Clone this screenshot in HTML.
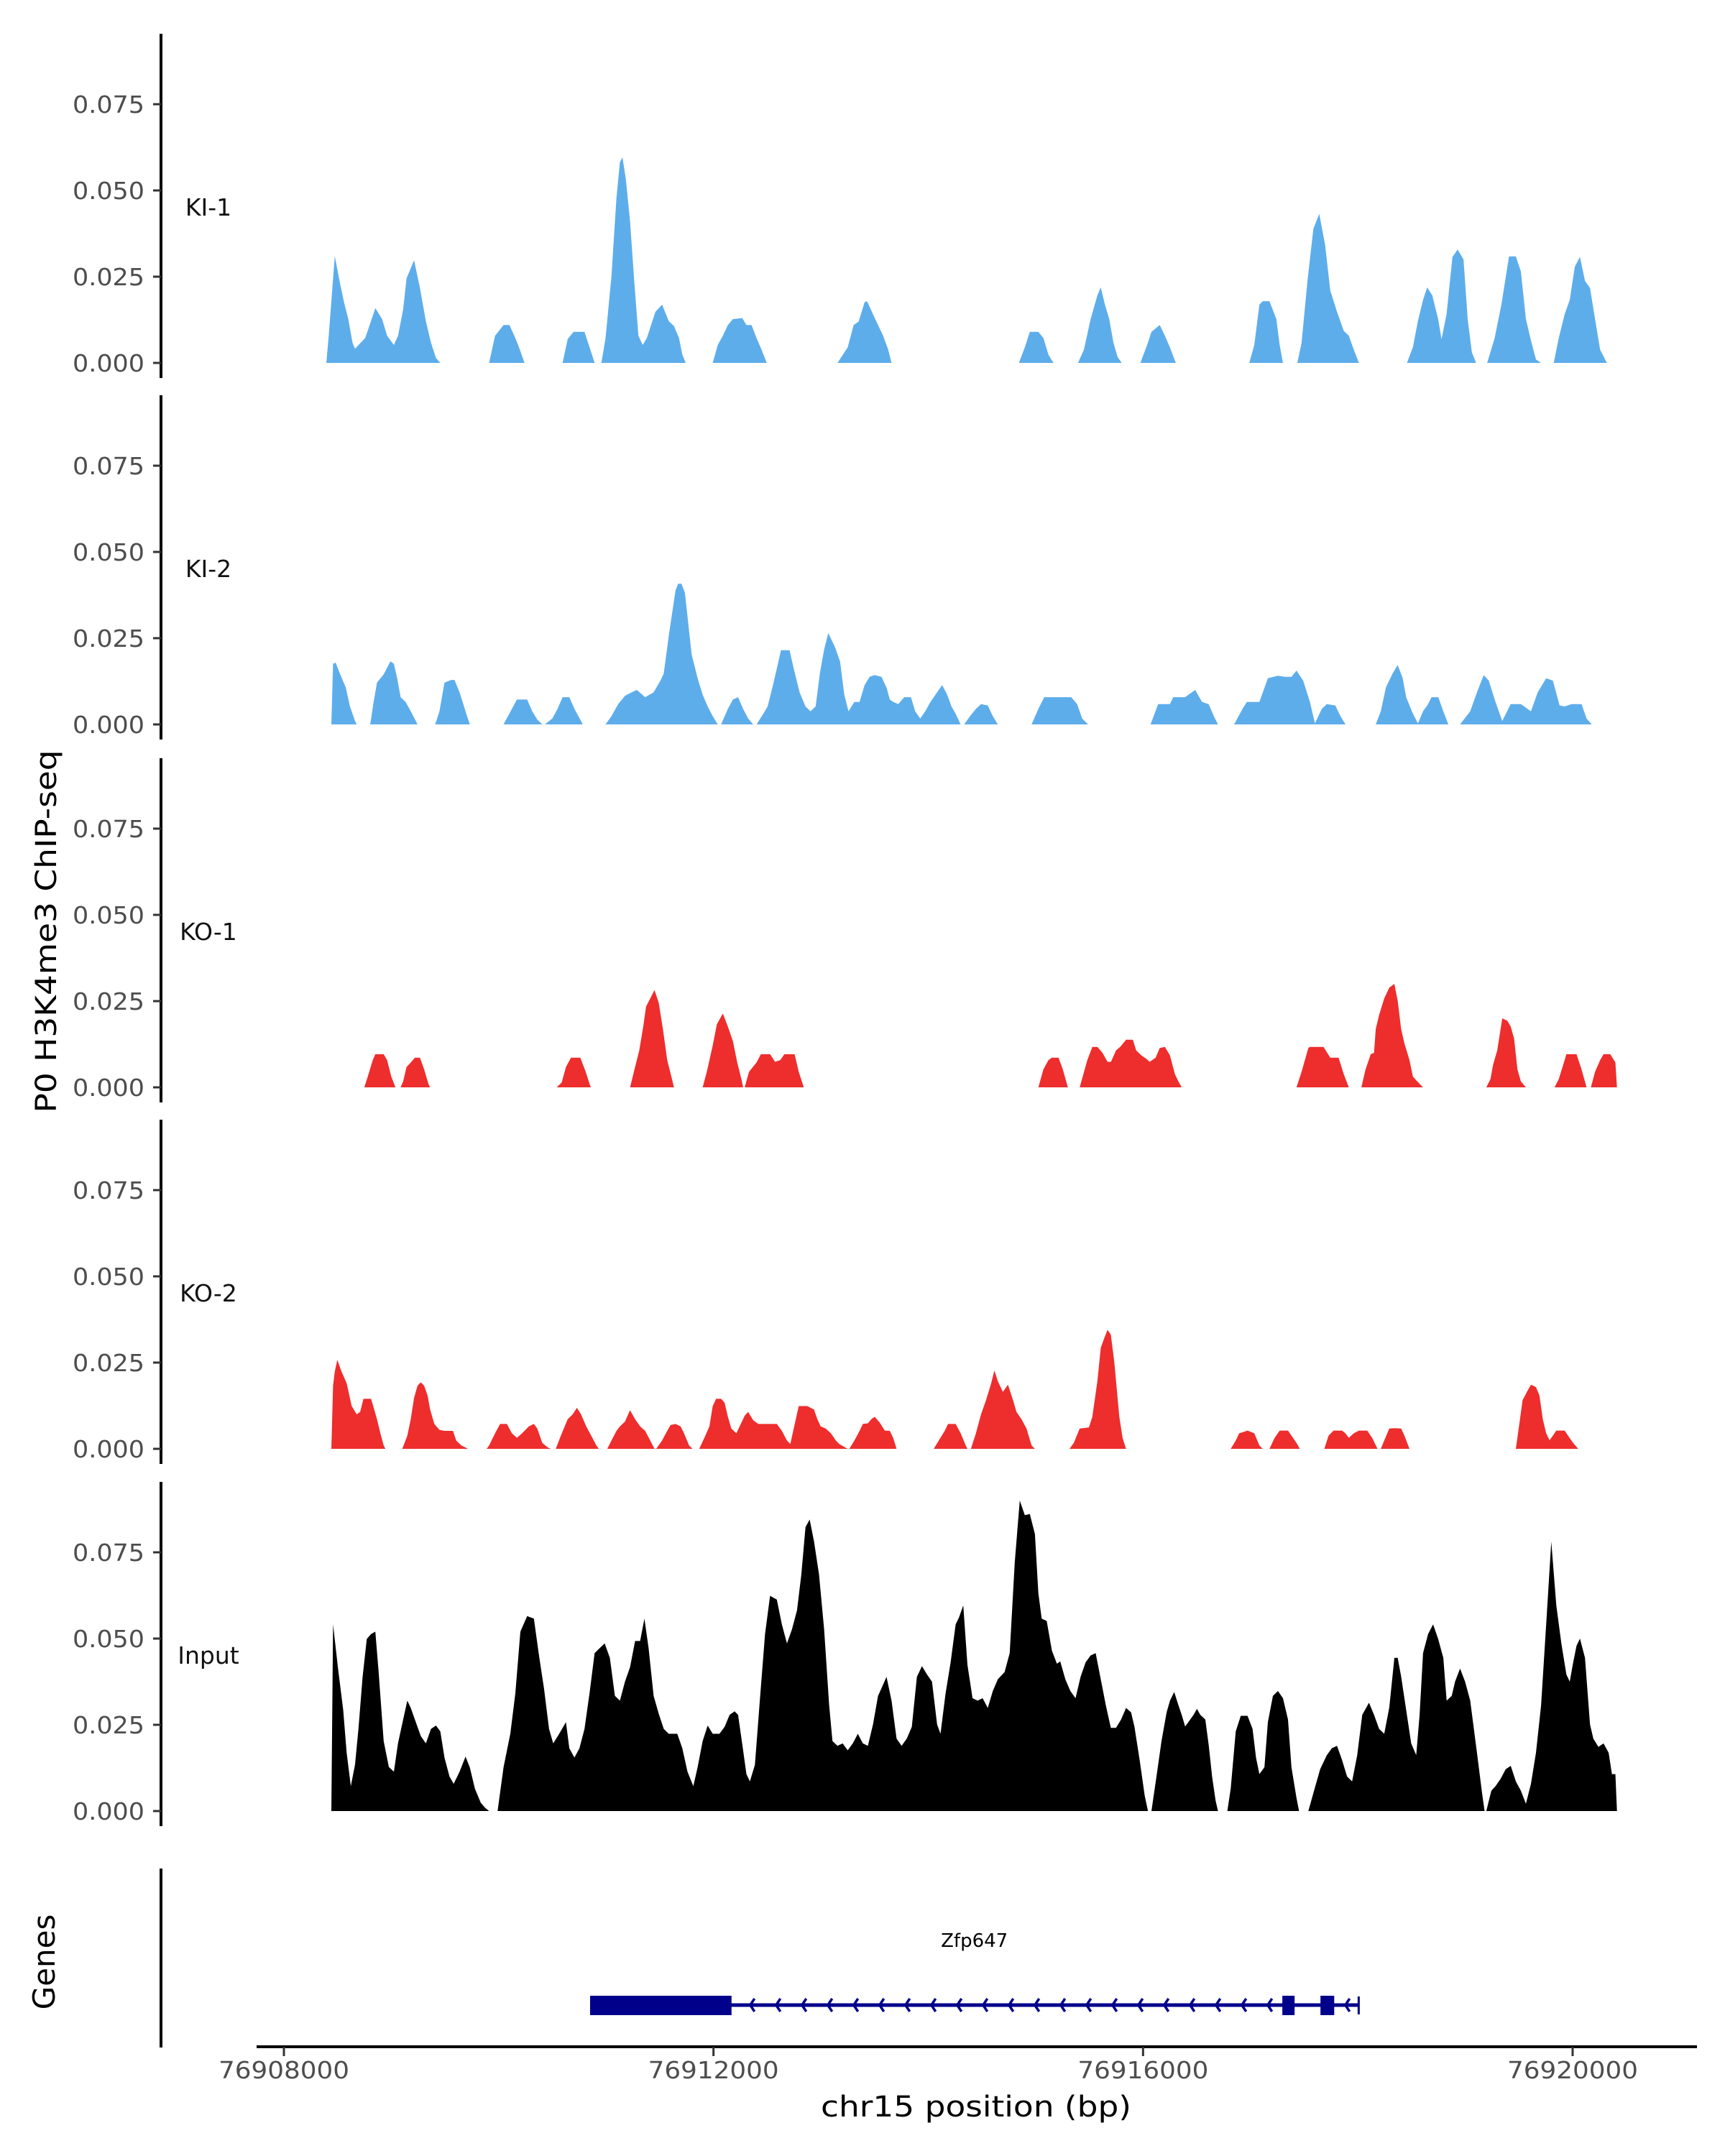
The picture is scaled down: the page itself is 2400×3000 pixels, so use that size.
<!DOCTYPE html>
<html><head><meta charset="utf-8"><style>
html,body{margin:0;padding:0;background:#fff;}
svg{display:block;}
text{font-family:"DejaVu Sans","Liberation Sans",sans-serif;}
</style></head><body>
<svg id="chart" width="2400" height="3000" viewBox="0 0 2400 3000" xmlns="http://www.w3.org/2000/svg">
<rect x="0" y="0" width="2400" height="3000" fill="#fff"/>
<text x="78" y="1296" transform="rotate(-90 78 1296)" text-anchor="middle" font-size="40" fill="#000" textLength="505" lengthAdjust="spacingAndGlyphs">P0 H3K4me3 ChIP-seq</text>
<text x="76" y="2730" transform="rotate(-90 76 2730)" text-anchor="middle" font-size="42" fill="#000">Genes</text>
<text x="1358" y="2945" text-anchor="middle" font-size="40" fill="#000" textLength="432" lengthAdjust="spacingAndGlyphs">chr15 position (bp)</text>
<g id="tracks"></g>
<g id="genes"></g>
<g id="xaxis"></g>
</svg>
<script>
const REGION_START = 76908000;
const xTicks = [76908000, 76912000, 76916000, 76920000];
const yTicks = [0, 0.025, 0.05, 0.075];
const trackNames = ["KI-1", "KI-2", "KO-1", "KO-2", "Input"];
const trackColors = ["#5eadeb", "#5eadeb", "#ee2d2d", "#ee2d2d", "#000000"];

const ki1Pos = [395,419,474,513,560,600,639,662,757,788,851,914,961,1024,1063,1110,1142,1212,1267,1322,1369,1416,1456,
1911,1966,2045,2100,2155,2194,2241,
2595,2642,2697,2799,2854,2893,
2956,2995,3050,3097,3129,3152,3184,3223,3262,3301,3341,3380,3419,3459,3521,3584,3632,3679,3710,3742,
3993,4040,4087,4134,4181,4268,4307,4354,4401,4448,4496,4543,
5155,5250,5305,5352,5407,5430,5485,5532,5580,5627,5658,
6844,6899,6946,7025,7072,7119,7166,
7394,7449,7512,7575,7606,7645,7685,7724,7763,7802,
7975,8038,8078,8156,8203,8250,8305,
8989,9036,9083,9114,9177,9241,9272,9303,
9437,9476,9531,9586,9641,9696,9743,9806,9869,9916,9963,10010,
10457,10512,10559,10607,10646,10693,10748,10779,10826,10881,10929,10984,11023,11062,11101,
11204,11274,11337,11408,11471,11518,11565,11612,11659,11706,
11824,11871,11926,11973,12020,12068,12115,12162,12209,12256,12319];
const ki1Val = [0,.0085,.031,.0245,.0175,.0127,.0058,.0041,.0072,.01,.0159,.0127,.0079,.0052,.0079,.0155,.0245,.0298,.0217,.0121,.0059,.0014,0,
0,.0079,.011,.011,.0072,.0041,0,
0,.0069,.009,.009,.0038,0,
0,.0072,.0251,.0479,.0582,.0596,.0534,.041,.0238,.0079,.0052,.0072,.011,.0148,.0169,.0121,.0107,.0072,.0024,0,
0,.0052,.0079,.011,.0127,.013,.011,.011,.0072,.0038,0,0,
0,.0045,.011,.012,.0176,.0179,.0141,.011,.0079,.0038,0,
0,.0045,.009,.009,.0072,.0024,0,
0,.0038,.0127,.0196,.0219,.0169,.0127,.0059,.0017,0,
0,.0052,.009,.011,.0079,.0045,0,
0,.0052,.0169,.0179,.0179,.0127,.0052,0,
0,.0059,.0238,.0389,.0432,.0341,.021,.0148,.0093,.0079,.0038,0,
0,.0045,.0121,.0183,.0219,.0196,.0127,.0069,.0141,.0307,.0329,.03,.0127,.0031,0,
0,.0072,.0169,.0309,.0309,.0265,.0127,.0065,.001,0,
0,.0072,.0141,.0183,.0279,.0307,.0238,.0217,.0127,.0038,0];

const ki2Pos = [442,458,482,521,576,615,662,678,
804,835,867,929,992,1024,1055,1087,1134,1181,1228,1244,
1409,1448,1495,1558,1589,1636,1691,1731,
2045,2123,2170,2265,2312,2359,2406,
2430,2500,2548,2595,2658,2705,2767,2783,
2995,3050,3113,3176,3238,3286,3364,3443,3506,3537,3584,3647,3671,3702,3734,3797,3852,3899,3946,3993,4040,
4071,4134,4181,4229,4276,4323,4370,
4401,4464,4504,4543,4590,4629,4708,4747,4802,4857,4904,4951,4991,5030,5069,5132,5179,5218,5257,5312,5360,5407,5454,5501,5564,5611,5642,5674,5721,5776,5839,5878,5925,5972,6020,6082,6129,6177,6216,6255,6302,
6334,6389,6444,6491,6554,6601,6648,
6962,7025,7080,7331,7386,7433,7488,
8070,8140,8250,8281,8391,8486,8549,8611,8659,8698,
8848,8926,8966,9083,9162,9256,9319,9382,9429,9491,9554,9601,9664,9711,9790,9838,9885,
10167,10214,10261,10324,10371,10418,10450,10513,10560,10607,10654,10686,10749,10796,10843,
10952,11046,11109,11172,11219,11282,11345,11423,11518,11612,11675,11754,11816,11879,11926,11989,12083,12130,12178];
const ki2Val = [0,.0176,.0179,.0148,.0107,.0052,.001,0,
0,.0065,.0121,.0145,.0183,.0176,.0134,.0079,.0065,.0038,.001,0,
0,.0038,.0121,.0129,.0129,.0093,.0038,0,
0,.0045,.0072,.0072,.0038,.0014,0,
0,.0017,.0045,.0079,.0079,.0045,.001,0,
0,.0024,.0059,.0083,.0093,.01,.0079,.0093,.0127,.0148,.0258,.0389,.0408,.0408,.0382,.0203,.0134,.0086,.0052,.0024,0,
0,.0045,.0072,.0079,.0045,.0017,0,
0,.0031,.0052,.01,.0162,.0215,.0215,.0162,.0093,.0052,.0038,.0052,.0148,.0217,.0265,.0224,.0182,.0086,.0038,.0065,.0065,.0114,.0138,.0143,.0138,.0107,.0072,.0065,.0059,.0079,.0079,.0038,.0017,.0038,.0065,.0093,.0114,.0086,.0052,.0031,0,
0,.0024,.0045,.0059,.0055,.0024,0,
0,.0045,.0079,.0079,.0059,.0017,0,
0,.0059,.0059,.0079,.0079,.01,.0065,.0059,.0024,0,
0,.0045,.0065,.0065,.0134,.0141,.0138,.0138,.0156,.0127,.0065,.0003,.0045,.0059,.0055,.0024,0,
0,.0038,.0107,.0148,.0172,.0134,.0079,.0031,.0003,.0038,.0059,.0079,.0079,.0038,0,
0,.0038,.0093,.0143,.0127,.0065,.001,.0059,.0059,.0038,.0093,.0134,.0127,.0055,.0052,.0059,.0059,.0017,0];

const ko1Pos = [749,788,827,851,929,961,1000,1039,
1087,1110,1142,1181,1220,1267,1306,1346,1361,
2540,2587,2626,2673,2760,2807,2854,2862,
3223,3270,3309,3349,3372,3411,3451,3490,3529,3569,3608,3632,
3899,3938,3993,4032,4087,4134,4181,4221,4260,4276,
4291,4331,4401,4441,4527,4574,4621,4661,4755,4794,4841,
7025,7072,7119,7150,7213,7253,7300,
7410,7481,7528,7575,7622,7669,7701,7748,7787,7842,7905,7936,7983,8030,8062,8117,8156,8203,8250,8297,8329,8360,
9429,9476,9539,9554,9680,9743,9821,9869,9916,
10033,10072,10120,10151,10167,10198,10246,10293,10340,10371,10403,10434,10481,10513,10576,10607,
11196,11235,11259,11298,11345,11392,11424,11455,11486,11518,11565,
11832,11871,11926,11942,12036,12083,12130,
12170,12209,12256,12288,12351,12398,12413];
const ko1Val = [0,.0038,.0079,.0096,.0096,.0079,.0031,0,
0,.0017,.0059,.0072,.0086,.0086,.0052,.001,0,
0,.0014,.0059,.0086,.0086,.0048,.0003,0,
0,.0059,.0107,.0182,.0234,.0258,.0282,.0245,.0169,.0079,.0031,0,
0,.0045,.0121,.0183,.0214,.0176,.0134,.0072,.0024,0,
0,.0045,.0072,.0096,.0096,.0074,.0079,.0096,.0096,.0045,0,
0,.0052,.0079,.0086,.0086,.0052,0,
0,.0079,.0117,.0117,.01,.0074,.0074,.0107,.0117,.0138,.0138,.0107,.0093,.0083,.0074,.0086,.0114,.0117,.0093,.0038,.0017,0,
0,.0045,.0114,.0117,.0117,.0086,.0086,.0038,0,
0,.0052,.0096,.01,.0169,.021,.0258,.0289,.03,.0251,.0169,.0127,.0079,.0031,.001,0,
0,.0024,.0065,.0107,.02,.0193,.0176,.0141,.0052,.0017,0,
0,.0024,.0079,.0096,.0096,.0052,0,
0,.0045,.0079,.0096,.0096,.0072,0];

const ko2Pos = [442,458,474,497,537,584,631,678,710,741,812,867,898,929,945,
1102,1149,1181,1212,1244,1275,1306,1338,1361,1401,1448,1495,1574,1605,1652,1715,
1888,1911,1966,2013,2076,2123,2170,2218,2281,2328,2359,2406,2453,2485,
2532,2579,2642,2689,2728,2767,2815,2862,2909,2932,
3011,3050,3097,3129,3176,3223,3270,3317,3364,3411,3451,
3466,3521,3569,3600,3647,3694,3726,3773,3804,
3867,3914,3962,3993,4024,4071,4103,4134,4166,4213,4244,4291,4323,4370,4417,4590,4637,4684,4716,4747,4794,4873,4936,4967,4998,5045,5093,5140,5171,5234,5250,
5265,5312,5360,5391,5438,5470,5501,5548,5595,5642,5674,5705,
6051,6098,6153,6184,6255,6302,6349,6365,
6397,6444,6491,6538,6585,6616,6648,6695,6742,6789,6821,6868,6915,6962,6993,
7315,7355,7410,7496,7528,7575,7606,7638,7669,7700,7732,7779,7810,7842,
8816,8863,8895,8926,8973,9036,9083,9114,
9177,9224,9272,9350,9398,9429,9460,
9688,9727,9774,9853,9884,9916,9963,10010,10088,10135,10183,
10214,10246,10293,10340,10403,10434,10481,
11471,11495,11534,11581,11612,11659,11691,11722,11754,11785,11816,11848,11926,11973,12005,12052];
const ko2Val = [0,.0183,.0224,.0258,.0224,.019,.0124,.01,.0107,.0145,.0145,.0086,.0045,.001,0,
0,.0038,.0086,.0148,.0183,.0193,.0183,.0155,.0114,.0072,.0055,.0052,.0052,.0024,.001,0,
0,.001,.0045,.0072,.0072,.0045,.0032,.0045,.0065,.0072,.0059,.0017,.0005,0,
0,.0038,.0086,.01,.0119,.01,.0065,.0038,.001,0,
0,.0024,.0052,.0065,.0079,.0112,.0086,.0065,.0052,.0024,0,
0,.0024,.0052,.0069,.0072,.0065,.0045,.001,0,
0,.0031,.0065,.0124,.0145,.0145,.0134,.0093,.0059,.0045,.0065,.0096,.0107,.0083,.0072,.0072,.0052,.0024,.0014,.0059,.0124,.0124,.0114,.0086,.0065,.0059,.0045,.0024,.0014,.0003,0,
0,.0024,.0052,.0072,.0074,.0086,.0093,.0076,.0053,.0052,.0031,0,
0,.0024,.0052,.0072,.0072,.0045,.001,0,
0,.0045,.01,.0141,.0189,.0227,.0196,.0165,.0186,.0141,.0107,.0086,.0059,.001,0,
0,.0017,.0059,.0062,.0093,.0196,.0293,.032,.0345,.0331,.0252,.0093,.0031,0,
0,.0024,.0045,.0048,.0053,.0045,.001,0,
0,.0031,.0053,.0053,.0031,.0017,0,
0,.0038,.0053,.0053,.0045,.0032,.0045,.0053,.0053,.0031,0,
0,.0024,.0059,.006,.0059,.0038,0,
0,.0052,.0141,.0169,.0186,.0179,.0155,.0086,.0045,.0025,.0038,.0053,.0053,.0031,.0017,0];

const inputPos = [442,458,505,552,584,623,662,694,733,772,812,851,882,929,977,1024,1063,1110,1149,1181,1228,1275,1322,1369,1416,1456,1495,1542,1581,1636,1691,1731,1778,1833,1872,1911,
1990,2045,2108,2155,2202,2265,2328,2375,2422,2469,2508,2563,2626,2658,2705,2752,2799,2846,2893,2940,2987,3035,3082,3129,3176,3223,3270,3317,3357,3396,3443,3490,3537,3584,3663,3710,3758,3812,3852,3899,3946,3993,4056,4103,4150,4197,4229,4276,4307,4339,4386,4433,4480,4527,4590,4637,4684,4731,4778,4818,4857,4896,4936,4983,5030,5077,5108,5155,5203,5250,5297,5344,5391,5438,5485,5532,5572,5611,5658,5705,5752,5800,5847,5894,5941,5988,6035,6082,6114,6161,6208,6255,6286,6326,6365,6412,6459,6506,6554,6601,6648,6711,6758,6805,6852,6899,6946,6993,7025,7056,7103,7151,7198,7229,7276,7323,7371,7418,7465,7512,7559,7606,7653,7700,7748,7795,7842,7889,7920,7968,8015,8046,
8078,8125,8172,8219,8251,8290,8329,8360,8392,8439,8470,8502,8533,8580,8612,8643,8675,8698,
8785,8816,8863,8910,8973,9020,9052,9083,9130,9162,9209,9256,9303,9350,9382,9429,9453,
9539,9586,9649,9711,9758,9806,9853,9900,9947,9994,10041,10104,10151,10198,10246,10293,10340,10371,10403,10450,10497,10544,10575,10607,10654,10701,10748,10796,10827,10874,10905,10952,10999,11046,11109,11157,11180,
11196,11243,11282,11329,11376,11424,11471,11518,11565,11612,11659,11706,11754,11801,11848,11895,11942,11973,12005,12036,12068,12115,12162,12193,12240,12288,12335,12366,12398,12413];
const inputVal = [0,.0541,.041,.0293,.0169,.0072,.0134,.0238,.0389,.0499,.0513,.052,.0403,.0203,.0128,.0114,.0197,.0265,.032,.0299,.0258,.0217,.0196,.0238,.0248,.0231,.0155,.01,.0079,.0114,.0158,.0127,.0065,.0024,.001,0,
0,.0127,.0224,.0341,.052,.0565,.0558,.0451,.0355,.0238,.0196,.0224,.0258,.0182,.0155,.0182,.0238,.0341,.0458,.0472,.0486,.0444,.0334,.032,.0375,.0417,.0493,.0493,.0558,.0472,.0334,.0282,.0238,.0224,.0224,.0182,.0114,.0072,.0127,.0203,.0248,.0224,.0224,.0244,.0279,.0289,.0279,.0176,.0107,.0086,.0134,.0327,.0513,.0624,.0613,.0541,.0486,.0527,.0582,.0686,.0823,.0845,.0782,.0686,.0527,.0307,.0203,.0189,.0196,.0176,.0196,.0224,.0196,.0189,.0251,.0334,.0361,.0389,.032,.021,.0189,.021,.0244,.0389,.042,.0396,.0375,.0251,.0224,.0341,.0431,.0541,.0561,.0596,.0424,.0327,.032,.0327,.0299,.0348,.0382,.0403,.0458,.072,.09,.0858,.0861,.0803,.0631,.0558,.0551,.0465,.0427,.0434,.0382,.0348,.0327,.0389,.0431,.0451,.0458,.0382,.0307,.0241,.0241,.0265,.0299,.0286,.0244,.0148,.0045,0,
0,.01,.0203,.0286,.032,.0345,.0307,.0279,.0245,.0265,.0279,.0296,.0279,.0265,.0189,.01,.0031,0,
0,.0065,.0231,.0276,.0276,.0238,.0155,.0107,.0127,.0258,.0334,.0348,.0327,.0265,.0127,.0038,0,
0,.0052,.0121,.0162,.0182,.0189,.0148,.01,.0086,.0162,.0279,.0314,.0279,.0238,.0224,.03,.0444,.0444,.039,.0293,.0196,.0162,.0279,.0458,.0513,.0541,.0499,.0444,.032,.0334,.0375,.0413,.0375,.032,.0169,.0052,0,
0,.0059,.0072,.0093,.0121,.0131,.0086,.0059,.0021,.0079,.0169,.0306,.0541,.0781,.0596,.0486,.0396,.0375,.043,.0479,.05,.0444,.0251,.021,.0186,.0196,.0169,.0107,.0107,0];

const trackPos = [ki1Pos, ki2Pos, ko1Pos, ko2Pos, inputPos];
const trackVal = [ki1Val, ki2Val, ko1Val, ko2Val, inputVal];

const geneName = "Zfp647";
const geneStart = 76910851;
const geneEnd = 76918008;
const exonStarts = [76910851, 76917297, 76917652];
const exonEnds = [76912168, 76917411, 76917780];

const NS = "http://www.w3.org/2000/svg";
const X0 = 395, XPX = (2188 - 395) / 12000;
function xScale(bp) { return X0 + (bp - REGION_START) * XPX; }
const zeros = [505, 1008, 1513, 2016, 2520];
const YPX = 120 / 0.025;
function yScale(k, v) { return zeros[k] - v * YPX; }
function mk(tag, attrs, parent) {
  const e = document.createElementNS(NS, tag);
  for (const k in attrs) e.setAttribute(k, attrs[k]);
  parent.appendChild(e);
  return e;
}
const tracks = document.getElementById('tracks');
for (let k = 0; k < 5; k++) {
  const g = mk('g', {}, tracks);
  
  
  const pos = trackPos[k], val = trackVal[k];
  let d = 'M' + xScale(REGION_START + pos[0]).toFixed(1) + ',' + zeros[k];
  for (let i = 0; i < pos.length; i++) d += 'L' + xScale(REGION_START + pos[i]).toFixed(1) + ',' + yScale(k, val[i]).toFixed(1);
  d += 'L' + xScale(REGION_START + pos[pos.length - 1]).toFixed(1) + ',' + zeros[k] + 'Z';
  const area = mk('path', {d: d, fill: trackColors[k]}, g);
  
  
  const ax = mk('line', {x1: 224, x2: 224, y1: zeros[k] - 458, y2: zeros[k] + 21, stroke: '#000', 'stroke-width': 4}, g);
  
  
  for (let t = 0; t < yTicks.length; t++) {
    const y = yScale(k, yTicks[t]);
    const tk = mk('line', {x1: 213, x2: 224, y1: y, y2: y, stroke: '#333', 'stroke-width': 3}, g);
    
    
    const lb = mk('text', {x: 201, y: y + 12, 'text-anchor': 'end', 'font-size': 33, fill: '#4d4d4d', textLength: 100, lengthAdjust: 'spacingAndGlyphs'}, g);
    lb.textContent = yTicks[t].toFixed(3);
    
    
  }
  const nm = mk('text', {x: 290, y: zeros[k] - 205, 'text-anchor': 'middle', 'font-size': 33, fill: '#111'}, g);
  nm.textContent = trackNames[k];
  
  
}
const gg = document.getElementById('genes');
const gax = mk('line', {x1: 224, x2: 224, y1: 2600, y2: 2849, stroke: '#000', 'stroke-width': 4}, gg);


const gl = mk('text', {x: (xScale(geneStart) + xScale(geneEnd)) / 2, y: 2709, 'text-anchor': 'middle', 'font-size': 26, fill: '#000'}, gg);
gl.textContent = geneName;


const intron = mk('line', {x1: xScale(geneStart), x2: xScale(geneEnd), y1: 2790, y2: 2790, stroke: '#00008b', 'stroke-width': 5}, gg);


for (let x = xScale(exonEnds[0]) + 26; x < xScale(geneEnd) - 6; x += 36) {
  const s = xScale(exonStarts[1]), e = xScale(exonEnds[1]), s2 = xScale(exonStarts[2]), e2 = xScale(exonEnds[2]);
  if ((x > s - 4 && x < e + 4) || (x > s2 - 4 && x < e2 + 4)) continue;
  const ch = mk('path', {d: 'M' + (x + 6) + ',2781 L' + x + ',2790 L' + (x + 6) + ',2799', stroke: '#00008b', 'stroke-width': 3.5, fill: 'none'}, gg);
  
  
}
for (let i = 0; i < exonStarts.length; i++) {
  const ex = mk('rect', {x: xScale(exonStarts[i]), y: 2777, width: xScale(exonEnds[i]) - xScale(exonStarts[i]), height: 27, fill: '#00008b'}, gg);
  
  
}
const endBar = mk('line', {x1: xScale(geneEnd), x2: xScale(geneEnd), y1: 2778, y2: 2803, stroke: '#00008b', 'stroke-width': 3}, gg);


const xa = document.getElementById('xaxis');
const xl = mk('line', {x1: 357, x2: 2361, y1: 2848, y2: 2848, stroke: '#000', 'stroke-width': 4}, xa);


for (let t = 0; t < xTicks.length; t++) {
  const x = xScale(xTicks[t]);
  const tk = mk('line', {x1: x, x2: x, y1: 2848, y2: 2861, stroke: '#333', 'stroke-width': 3}, xa);
  
  
  const lb = mk('text', {x: x, y: 2892, 'text-anchor': 'middle', 'font-size': 33, fill: '#4d4d4d', textLength: 182, lengthAdjust: 'spacingAndGlyphs'}, xa);
  lb.textContent = String(xTicks[t]);
  
  
}
</script>
</body></html>
